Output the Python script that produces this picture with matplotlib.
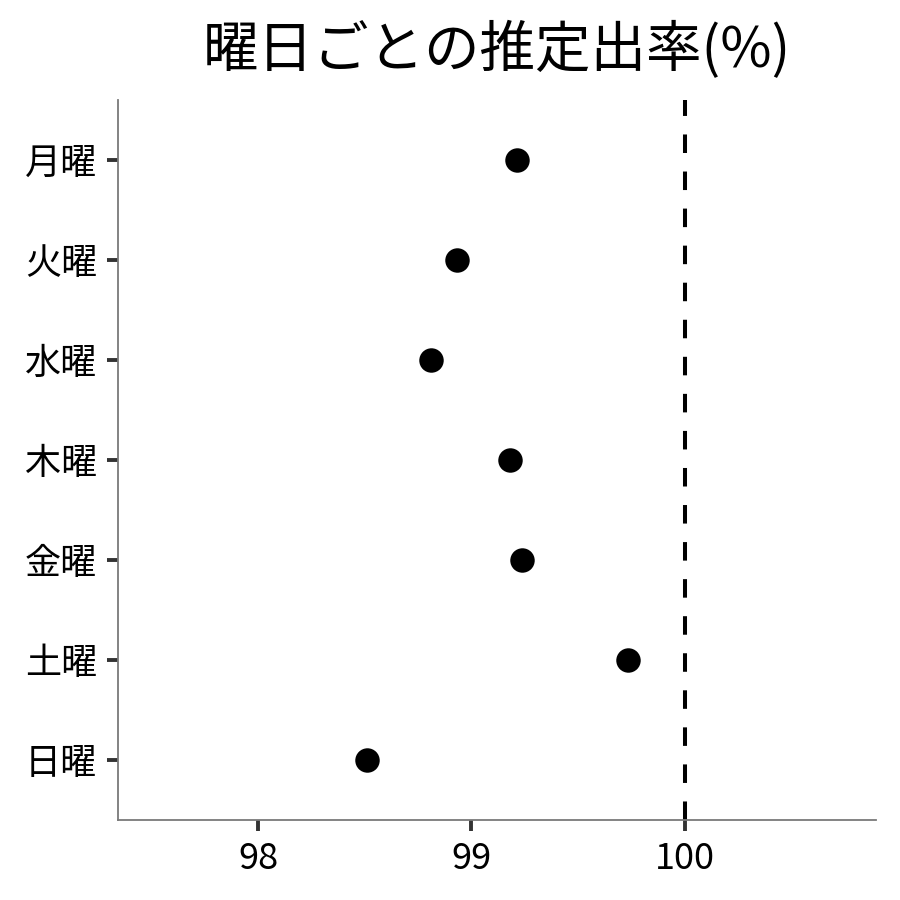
import matplotlib
matplotlib.use("Agg")
import matplotlib.pyplot as plt

plt.rcParams['font.family'] = ['Noto Sans CJK JP', 'DejaVu Sans']

days = ["月曜", "火曜", "水曜", "木曜", "金曜", "土曜", "日曜"]
rates = [99.215, 98.93, 98.81, 99.18, 99.235, 99.735, 98.51]
xticks = [98, 99, 100]
ref_line = 100

fig = plt.figure(figsize=(9, 9), dpi=100)
ax = fig.add_axes([118/900, 1-820/900, (876-118)/900, (820-100)/900])

ypos = list(range(len(days)))[::-1]
ax.scatter(rates, ypos, s=310, color='black', zorder=3, linewidths=0)
ax.axvline(ref_line, color='black', lw=2.9, dashes=(4.6, 4.6), zorder=2)

ax.set_xlim(97.344, 100.895)
ax.set_ylim(-0.6, len(days) - 1 + 0.6)
ax.set_yticks(ypos)
ax.set_yticklabels(days)
ax.set_xticks(xticks)
ax.set_xticklabels([str(t) for t in xticks])

for s in ['top', 'right']:
    ax.spines[s].set_visible(False)
for s in ['left', 'bottom']:
    ax.spines[s].set_color('#7a7a7a')
    ax.spines[s].set_linewidth(1.3)

ax.tick_params(axis='both', length=8, width=2.8, color='#333333', labelsize=26, labelcolor='black', pad=7)

ax.set_title("曜日ごとの推定出率(%)", fontsize=40, pad=24)

fig.savefig("out.png", dpi=100, facecolor='white')
